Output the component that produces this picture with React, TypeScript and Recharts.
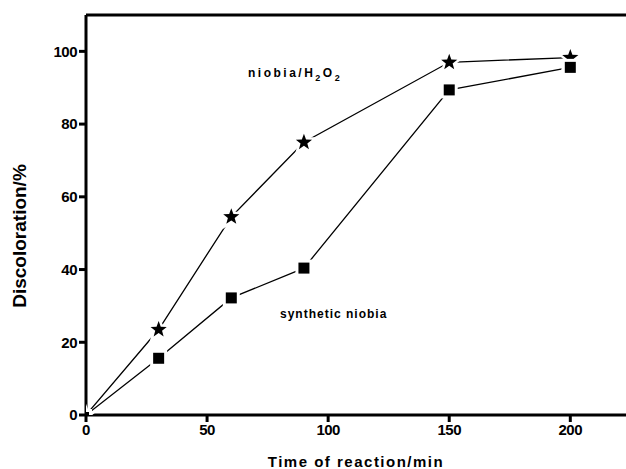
import React from "react";
import { LineChart, Line, XAxis, YAxis, ReferenceLine, Customized } from "recharts";

const times = [0, 30, 60, 90, 150, 200];
const niobiaH2O2 = [0, 23.5, 54.5, 75, 97, 98.3];
const syntheticNiobia = [0, 15.6, 32.2, 40.4, 89.4, 95.6];
const xTicks = [0, 50, 100, 150, 200];
const yTicks = [0, 20, 40, 60, 80, 100];

const data = times.map((t, i) => ({ t, a: niobiaH2O2[i], b: syntheticNiobia[i] }));

const FONT = "'Liberation Sans', Arial, sans-serif";

const StarDot = (props: any) => {
  const { cx, cy, index } = props;
  if (cx == null || cy == null) return null;
  const R = index === 0 ? 4 : 8.5;
  const r = R * 0.42;
  const pts: string[] = [];
  for (let k = 0; k < 10; k++) {
    const ang = -Math.PI / 2 + (k * Math.PI) / 5;
    const rr = k % 2 === 0 ? R : r;
    pts.push(`${cx + rr * Math.cos(ang)},${cy + rr * Math.sin(ang)}`);
  }
  return (
    <polygon
      points={pts.join(" ")}
      fill="#000"
      stroke="#fff"
      strokeWidth={5}
      style={{ paintOrder: "stroke" }}
    />
  );
};

const SquareDot = (props: any) => {
  const { cx, cy, index } = props;
  if (cx == null || cy == null) return null;
  const s = index === 0 ? 6 : 11;
  return (
    <rect
      x={cx - s / 2}
      y={cy - s / 2}
      width={s}
      height={s}
      fill="#000"
      stroke="#fff"
      strokeWidth={6}
      style={{ paintOrder: "stroke" }}
    />
  );
};

const Labels = () => (
  <g fontFamily={FONT} fontWeight="bold" fill="#000">
    <text x={248} y={77} fontSize={12} letterSpacing={2.5}>
      niobia/H
      <tspan fontSize={9} dy={4}>2</tspan>
      <tspan fontSize={12} dy={-4}>O</tspan>
      <tspan fontSize={9} dy={4}>2</tspan>
    </text>
    <text x={280} y={318} fontSize={12} letterSpacing={1}>
      synthetic niobia
    </text>
    <text
      x={0}
      y={0}
      fontSize={19}
      textAnchor="middle"
      transform="translate(26, 236) rotate(-90)"
    >
      Discoloration/%
    </text>
  </g>
);

const tickStyle = { fill: "#000", fontFamily: FONT, fontWeight: "bold", fontSize: 15, letterSpacing: -0.5 };

export default function App() {
  return (
    <div style={{ position: "absolute", left: 0, top: 0, background: "#fff" }}>
      <LineChart
        width={626}
        height={469}
        data={data}
        margin={{ top: 15, right: 0, bottom: 0, left: 0 }}
      >
        <XAxis
          dataKey="t"
          type="number"
          domain={[0, 223]}
          ticks={xTicks}
          allowDataOverflow
          height={54}
          stroke="#000"
          strokeWidth={3}
          tickSize={7}
          tick={tickStyle}
          label={{
            value: "Time of reaction/min",
            position: "insideBottom",
            offset: 2,
            style: { fill: "#000", fontFamily: FONT, fontWeight: "bold", fontSize: 15, letterSpacing: 1.5 },
          }}
        />
        <YAxis
          type="number"
          domain={[0, 110]}
          ticks={yTicks}
          allowDataOverflow
          width={86}
          stroke="#000"
          strokeWidth={3}
          tickSize={7}
          tick={tickStyle}
        />
        <ReferenceLine y={110} stroke="#000" strokeWidth={3} />
        <Line
          dataKey="a"
          stroke="#000"
          strokeWidth={1.3}
          dot={<StarDot />}
          isAnimationActive={false}
        />
        <Line
          dataKey="b"
          stroke="#000"
          strokeWidth={1.3}
          dot={<SquareDot />}
          isAnimationActive={false}
        />
        <Customized component={Labels} />
      </LineChart>
    </div>
  );
}
